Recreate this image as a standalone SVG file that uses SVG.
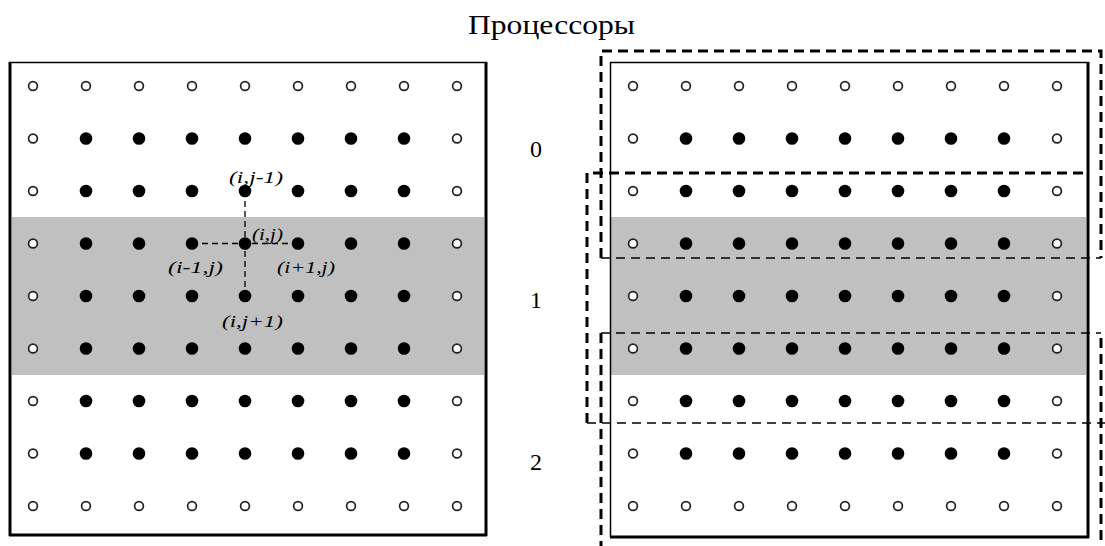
<svg xmlns="http://www.w3.org/2000/svg" xmlns:xlink="http://www.w3.org/1999/xlink" width="1105" height="546" viewBox="0 0 1105 546">
<style>
.o{fill:#fff;stroke:#222;stroke-width:1.7}
.f{fill:#000}
.band{fill:#c0c0c0}
.thin{stroke:#000;stroke-width:1.5;fill:none}
.thick{stroke:#000;stroke-width:3;fill:none}
.dk{stroke:#000;stroke-width:3;fill:none;stroke-dasharray:10 6}
.dt{stroke:#000;stroke-width:1.5;fill:none;stroke-dasharray:9 6}
.dc{stroke:#000;stroke-width:1.3;fill:none;stroke-dasharray:6 4}
.lbl{font-family:"Liberation Serif",serif;font-style:italic;font-size:17px;fill:#000}
.num{font-family:"Liberation Serif",serif;font-size:24px;fill:#000}
.title{font-family:"Liberation Serif",serif;font-size:28px;fill:#000}
</style>
<defs>
<circle id="oc" r="4.4" class="o"/>
<circle id="fc" r="6.3" class="f"/>
<g id="ringrow">
<use xlink:href="#oc" x="0"/><use xlink:href="#oc" x="53"/><use xlink:href="#oc" x="106"/><use xlink:href="#oc" x="159"/><use xlink:href="#oc" x="212"/><use xlink:href="#oc" x="265"/><use xlink:href="#oc" x="318"/><use xlink:href="#oc" x="371"/><use xlink:href="#oc" x="424"/>
</g>
<g id="fullrow">
<use xlink:href="#oc" x="0"/><use xlink:href="#fc" x="53"/><use xlink:href="#fc" x="106"/><use xlink:href="#fc" x="159"/><use xlink:href="#fc" x="212"/><use xlink:href="#fc" x="265"/><use xlink:href="#fc" x="318"/><use xlink:href="#fc" x="371"/><use xlink:href="#oc" x="424"/>
</g>
<g id="grid">
<use xlink:href="#ringrow" y="86"/>
<use xlink:href="#fullrow" y="138.5"/>
<use xlink:href="#fullrow" y="191"/>
<use xlink:href="#fullrow" y="243.5"/>
<use xlink:href="#fullrow" y="296"/>
<use xlink:href="#fullrow" y="348.5"/>
<use xlink:href="#fullrow" y="401"/>
<use xlink:href="#fullrow" y="453.5"/>
<use xlink:href="#ringrow" y="506"/>
</g>
</defs>
<rect width="1105" height="546" fill="#fff"/>
<text class="title" x="468" y="34" textLength="167" lengthAdjust="spacingAndGlyphs">Процессоры</text>

<g id="left-matrix">
<rect class="band" x="12" y="217" width="472" height="158"/>
<line class="thin" x1="9" y1="62.5" x2="487" y2="62.5"/>
<line class="thick" x1="10" y1="62" x2="10" y2="536"/>
<line class="thick" x1="486" y1="62" x2="486" y2="536"/>
<line class="thick" x1="9" y1="535" x2="487" y2="535"/>
<use xlink:href="#grid" x="33"/>
</g>

<g id="right-matrix">
<rect class="band" x="611" y="217" width="475" height="158"/>
<line class="thin" x1="610" y1="62.5" x2="1089" y2="62.5"/>
<line class="thin" x1="610.5" y1="62" x2="610.5" y2="537"/>
<line class="thick" x1="1088" y1="62" x2="1088" y2="538"/>
<line class="thick" x1="610" y1="537" x2="1089" y2="537"/>
<use xlink:href="#grid" x="633"/>
</g>

<g id="connectors">
<line class="dc" x1="245" y1="191" x2="245" y2="296"/>
<line class="dc" x1="192" y1="243.5" x2="298" y2="243.5"/>
</g>

<g id="labels">
<text class="lbl" x="229" y="183" textLength="54" lengthAdjust="spacingAndGlyphs">(i,j-1)</text>
<text class="lbl" x="252" y="240" textLength="31" lengthAdjust="spacingAndGlyphs">(i,j)</text>
<text class="lbl" x="168" y="273" textLength="55" lengthAdjust="spacingAndGlyphs">(i-1,j)</text>
<text class="lbl" x="277" y="273" textLength="58" lengthAdjust="spacingAndGlyphs">(i+1,j)</text>
<text class="lbl" x="222" y="327" textLength="61" lengthAdjust="spacingAndGlyphs">(i,j+1)</text>
</g>

<g id="proc-0">
<path class="dk" d="M601,258 V51 H1101 V258"/>
<line class="dt" x1="601" y1="258" x2="1101" y2="258"/>
<text class="num" x="536" y="157" text-anchor="middle">0</text>
</g>
<g id="proc-1">
<path class="dk" d="M587,423 V173 H1088"/>
<line class="dt" x1="587" y1="423" x2="1105" y2="423"/>
<text class="num" x="536" y="308" text-anchor="middle">1</text>
</g>
<g id="proc-2">
<line class="dt" x1="601" y1="333" x2="1101" y2="333"/>
<line class="dk" x1="601" y1="333" x2="601" y2="546"/>
<line class="dk" x1="1101" y1="338" x2="1101" y2="546"/>
<text class="num" x="536" y="470" text-anchor="middle">2</text>
</g>
</svg>
